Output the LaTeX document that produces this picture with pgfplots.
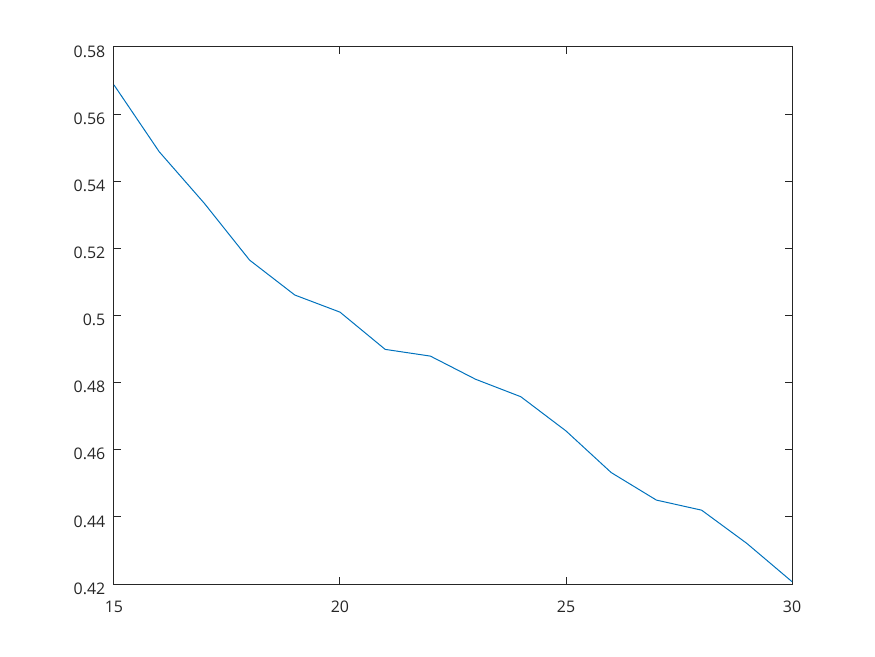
\documentclass[border=0pt]{standalone}
\usepackage{fontspec}
\setmainfont{Open Sans}
\usepackage{pgfplots}
\pgfplotsset{compat=1.18}
\definecolor{lineblue}{HTML}{0072BD}
\definecolor{axgray}{HTML}{262626}
\begin{document}
\begin{tikzpicture}
\begin{axis}[
    scale only axis,
    width=508.5bp, height=402.75bp,
    xmin=15, xmax=30, ymin=0.42, ymax=0.58,
    xtick={15,20,...,30},
    ytick={0.42,0.44,...,0.58},
    tick align=inside,
    major tick length=5bp,
    axis line style={axgray, line width=0.75bp},
    every tick/.style={axgray, line width=0.75bp},
    tick label style={font=\fontsize{12}{14}\selectfont, text=axgray},
    /pgf/number format/assume math mode=true,
    yticklabel style={/pgf/number format/fixed, /pgf/number format/precision=2, xshift=-3bp, yshift=-3.4bp},
    xticklabel style={yshift=-9bp},
    clip=false,
]
\addplot[lineblue, line width=0.75bp] coordinates {
(15,0.5687) (16,0.5488) (17,0.5334) (18,0.5165) (19,0.5061) (20,0.5010)
(21,0.4899) (22,0.4879) (23,0.4810) (24,0.4758) (25,0.4656) (26,0.4532)
(27,0.4450) (28,0.4420) (29,0.4321) (30,0.4207)
};
\path (rel axis cs:-0.1681,-0.1341) rectangle (rel axis cs:1.1224,1.0875);
\end{axis}
\end{tikzpicture}
\end{document}
